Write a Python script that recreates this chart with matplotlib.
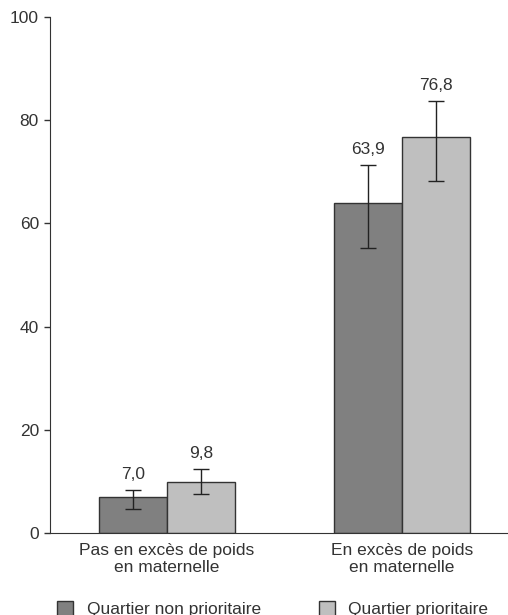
import numpy as np
import matplotlib.pyplot as plt

plt.rcParams['font.family'] = ['Liberation Sans', 'DejaVu Sans']

# Data
categories = ['Pas en excès de poids\nen maternelle', 'En excès de poids\nen maternelle']
series = ['Quartier non prioritaire', 'Quartier prioritaire']
values_non = [7.0, 63.9]
values_prio = [9.8, 76.8]
low_non = [4.7, 55.3]
high_non = [8.3, 71.4]
low_prio = [7.5, 68.3]
high_prio = [12.5, 83.7]
labels_non = ['7,0', '63,9']
labels_prio = ['9,8', '76,8']

dark = '#808080'
light = '#bfbfbf'
edge = '#333333'
txt = '#333333'
fs = 12.5

fig = plt.figure(figsize=(5.08, 6.15), dpi=100)
ax = fig.add_axes([50/508, 82/615, 458/508, 516/615])

x = np.array([1.0, 2.0])
w = 0.289

for xs, vals, lo, hi, labs, col, name in [
        (x - w/2, values_non, low_non, high_non, labels_non, dark, series[0]),
        (x + w/2, values_prio, low_prio, high_prio, labels_prio, light, series[1])]:
    vals = np.array(vals)
    err = np.array([vals - np.array(lo), np.array(hi) - vals])
    ax.bar(xs, vals, width=w, color=col, edgecolor=edge, linewidth=1.0, label=name, zorder=2)
    ax.errorbar(xs, vals, yerr=err, fmt='none', ecolor='#222222', elinewidth=1.0,
                capsize=6, capthick=1.0, zorder=3)
    for xi, h, lab in zip(xs, hi, labs):
        ax.text(xi, h + 2.1, lab, ha='center', va='baseline', fontsize=fs, color=txt)

ax.set_xlim(0.502, 2.451)
ax.set_ylim(0, 100)
ax.set_yticks([0, 20, 40, 60, 80, 100])
ax.set_xticks(x)
ax.set_xticklabels(categories, multialignment='center', linespacing=1.15)
ax.tick_params(axis='x', length=0, pad=7, labelsize=fs, labelcolor=txt)
ax.tick_params(axis='y', length=4, width=1, direction='out', pad=4,
               labelsize=fs, labelcolor=txt, color=edge)

ax.spines['top'].set_visible(False)
ax.spines['right'].set_visible(False)
ax.spines['left'].set_color(edge)
ax.spines['bottom'].set_color(edge)

fig.legend(loc='upper left', bbox_to_anchor=(57/508, 14/615), ncol=2, frameon=False,
           fontsize=fs, handlelength=0.95, handleheight=0.95, handletextpad=0.75,
           columnspacing=3.35, labelcolor=txt, borderaxespad=0, borderpad=0)

fig.savefig('out.png', dpi=100)
